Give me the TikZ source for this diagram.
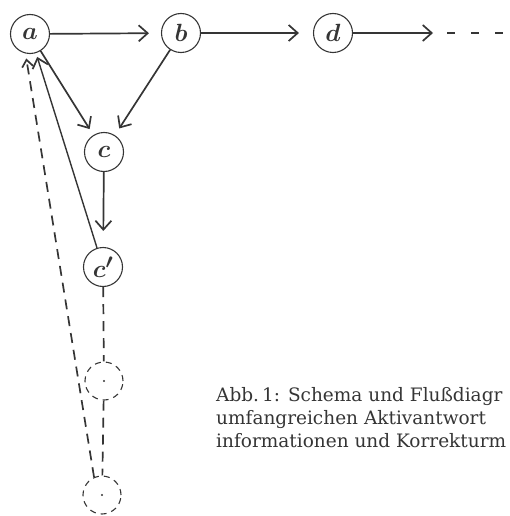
\documentclass[tikz,border=0pt]{standalone}
\usepackage{fontspec}
\usetikzlibrary{calc,positioning,arrows.meta}
\newfontfamily\capfont{DejaVu Serif}
\definecolor{ink}{HTML}{353535}

\begin{document}
\begin{tikzpicture}[x=1pt,y=-1pt,
    state/.style={draw=ink, circle, line width=1.1pt, inner sep=0pt, minimum size=39pt, text=ink, font=\fontsize{28}{28}\selectfont\boldmath},
    ghost/.style={draw=ink, circle, line width=1.1pt, dash pattern=on 6pt off 5pt, inner sep=0pt, minimum size=38pt,
        path picture={\fill[ink] (path picture bounding box.center) circle (1.2pt);}},
    flow/.style={draw=ink, line width=1.7pt, -{Straight Barb[length=9pt,width=16pt,line width=1.7pt]}},
    hint/.style={draw=ink, line width=1.7pt, dash pattern=on 10pt off 7pt}]
    \useasboundingbox (0,0) rectangle (509,516);

    % Draw the states of the chain
    \node[state] (a) at (30,34) {$a$};
    \node[state] (b) at (181,33) {$b$};
    \node[state] (d) at (333,33) {$d$};
    \node[state] (c) at (104,152) {$c$};
    \node[state] (cp) at (103,267) {$c'$};
    \node[ghost] (q1) at (104,381) {};
    \node[ghost] (q2) at (102,495) {};
    \coordinate (more) at (433,33);
    \coordinate (gap) at (447,33);
    \coordinate (rim) at (509,33);

    % Draw the forward arrows
    \draw[flow, shorten >=12pt] (a) -- (b);
    \draw[flow, shorten >=14pt] (b) -- (d);
    \draw[flow] (d) -- (more);
    \draw[hint, dash pattern=on 8pt off 16pt] (gap) -- (rim);
    \draw[flow, shorten >=7pt] (a) -- (c);
    \draw[flow, shorten >=8pt] (b) -- (c);
    \draw[flow, shorten >=16pt] (c) -- (cp);

    % Draw the way back to a
    \draw[flow, line width=1.4pt, shorten >=4pt] (cp) -- (a);
    \draw[hint] (cp) -- (q1);
    \draw[hint] (q1) -- (q2);
    \draw[hint, -{Straight Barb[length=7pt,width=11pt,line width=1.7pt]}, shorten >=5pt] (q2.114) -- (a.-103);

    % Caption
    \begin{scope}
        \clip (0,0) rectangle (509,516);
        \node[anchor=base west, align=left, inner sep=0pt, text=ink, font=\capfont\fontsize{18.5}{23}\selectfont] (caption) at (216,447)
            {Abb.\,1: Schema und Flußdiagr\\umfangreichen Aktivantwort\\informationen und Korrekturm};
    \end{scope}
\end{tikzpicture}
\end{document}
